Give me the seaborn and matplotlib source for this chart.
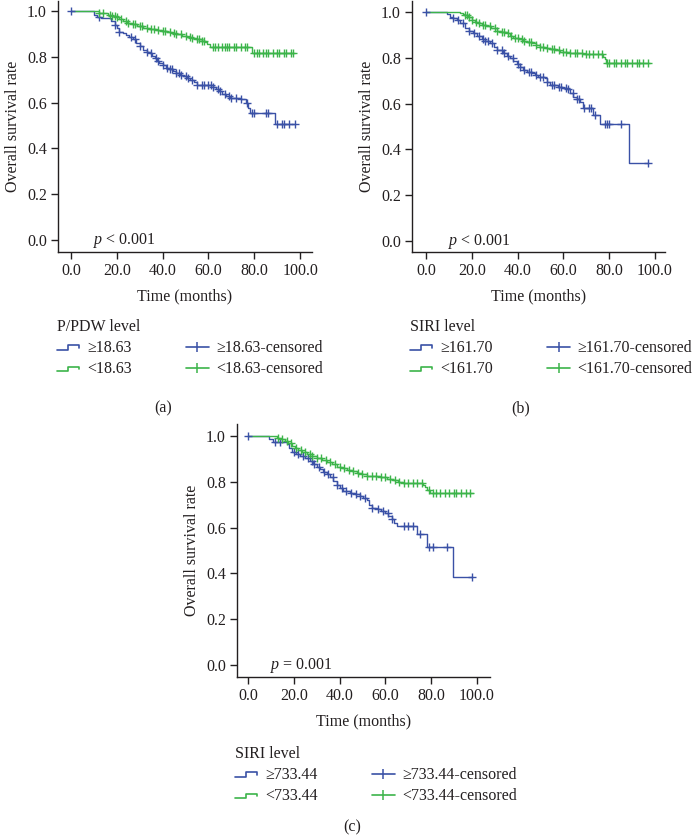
import numpy as np
import pandas as pd
import matplotlib
matplotlib.use("Agg")
import matplotlib.pyplot as plt
import seaborn as sns
from matplotlib.lines import Line2D
from matplotlib.legend_handler import HandlerBase
from matplotlib.ticker import FormatStrFormatter

# ---------------- data ----------------
# Kaplan-Meier steps: (time in months, survival after that time)
A_HIGH = [(0, 1.0), (10, 0.985), (11.5, 0.975), (13, 0.970), (15, 0.968), (17.5, 0.955), (19, 0.939),
          (20, 0.925), (21, 0.910), (22.5, 0.903), (24, 0.895), (25.5, 0.886), (27, 0.876), (28.5, 0.862),
          (30, 0.848), (31.5, 0.832), (33, 0.822), (34.5, 0.815), (35.5, 0.805), (36.5, 0.795), (37.5, 0.784),
          (38.5, 0.772), (40, 0.763), (41.5, 0.752), (43, 0.745), (44.5, 0.738), (46, 0.731), (47.5, 0.723),
          (49, 0.716), (50.5, 0.708), (52, 0.700), (53.5, 0.690), (55, 0.677), (62, 0.670), (63.5, 0.660),
          (64.5, 0.650), (66, 0.640), (67.5, 0.630), (69.5, 0.619), (74, 0.614), (76.5, 0.597), (77.3, 0.575),
          (78.2, 0.553), (89.2, 0.509), (97.8, 0.509)]
A_LOW = [(0, 1.0), (12, 0.993), (14, 0.990), (16, 0.985), (18, 0.980), (19.5, 0.975), (21, 0.966),
         (22.5, 0.958), (24.5, 0.950), (27, 0.943), (29, 0.935), (31.5, 0.928), (34, 0.922), (37, 0.917),
         (39.5, 0.912), (42, 0.908), (44, 0.903), (46, 0.898), (48.5, 0.893), (50.5, 0.888), (53, 0.882),
         (55, 0.876), (57, 0.870), (58.5, 0.865), (59.5, 0.855), (60.7, 0.844), (78.9, 0.818), (97.1, 0.818)]
A_HIGH_CENS = [0, 12, 19, 21, 26, 28, 30, 33, 35, 37, 38, 40, 42, 43, 44, 46, 47, 48, 50, 51, 53, 55, 57,
               58, 60, 61, 62, 64, 65, 67, 69, 70, 72, 74, 77, 79, 80, 85, 86, 90, 92, 93, 95, 97.8]
A_LOW_CENS = [12, 14, 17, 18, 19, 20, 22, 24, 25, 27, 28, 30, 31, 33, 35, 36, 38, 40, 41, 43, 45, 46, 48,
              50, 52, 53, 55, 56, 57, 58, 62, 63, 64, 66, 67, 68, 69, 71, 72, 74, 76, 77, 80, 81, 82, 84,
              85, 86, 88, 90, 91, 93, 94, 96, 97]

B_HIGH = [(0, 1.0), (9, 0.990), (10.5, 0.979), (12, 0.972), (13.5, 0.965), (15, 0.950), (17, 0.928),
          (19, 0.917), (20.7, 0.907), (22.5, 0.894), (24.3, 0.881), (26, 0.872), (28, 0.863), (29.5, 0.848),
          (31, 0.834), (33.8, 0.822), (35.2, 0.810), (36.7, 0.798), (38.2, 0.786), (39.6, 0.773), (41, 0.760),
          (42.5, 0.747), (44.3, 0.740), (46.1, 0.732), (47.6, 0.723), (49.1, 0.715), (52, 0.710), (53, 0.695),
          (54.1, 0.681), (57.8, 0.674), (59.5, 0.668), (61.4, 0.662), (62.8, 0.646), (64.3, 0.630),
          (65.8, 0.619), (67.2, 0.608), (68.7, 0.579), (73.1, 0.550), (76.0, 0.510), (88.8, 0.339),
          (97.1, 0.339)]
B_LOW = [(0, 1.0), (14.8, 0.995), (16, 0.990), (17, 0.986), (18.5, 0.976), (20, 0.967), (21.5, 0.958),
         (22.8, 0.950), (24.5, 0.944), (26.4, 0.938), (28.5, 0.928), (30.9, 0.918), (33, 0.912), (35.2, 0.907),
         (36.7, 0.896), (38.1, 0.885), (40.3, 0.880), (42.5, 0.875), (44.3, 0.869), (46.1, 0.863), (48, 0.856),
         (49.8, 0.849), (52, 0.843), (54.1, 0.837), (56.3, 0.832), (58.5, 0.827), (62.9, 0.820), (68.7, 0.817),
         (77.5, 0.805), (78.2, 0.793), (78.6, 0.776), (97.8, 0.776)]
B_HIGH_CENS = [0, 12, 14, 16, 19, 21, 23, 25, 26, 27, 29, 31, 33, 34, 36, 38, 40, 41, 43, 45, 46, 48, 50,
               51, 53, 55, 56, 58, 59, 61, 62, 64, 66, 67, 69, 71, 72, 74, 78, 79, 80, 85, 97]
B_LOW_CENS = [17, 18, 19, 20, 22, 23, 25, 26, 28, 30, 31, 33, 34, 36, 37, 39, 40, 42, 43, 45, 46, 48, 50,
              51, 53, 55, 56, 58, 60, 61, 63, 65, 66, 68, 70, 71, 73, 75, 77, 79, 80, 82, 83, 85, 87, 88,
              90, 92, 93, 95, 97]

C_HIGH = [(0, 1.0), (9, 0.985), (11.1, 0.975), (16.9, 0.965), (18, 0.948), (19.1, 0.932), (21, 0.922),
          (22.7, 0.913), (25, 0.902), (27.1, 0.892), (28.5, 0.879), (30, 0.866), (31.5, 0.855), (32.9, 0.844),
          (34.3, 0.832), (35.8, 0.820), (37.3, 0.803), (38.7, 0.786), (40.2, 0.773), (41.6, 0.761),
          (44.5, 0.752), (46.7, 0.745), (48.9, 0.738), (50.3, 0.730), (51.8, 0.721), (53, 0.700), (54, 0.684),
          (56.9, 0.680), (58.3, 0.671), (59.8, 0.662), (61.2, 0.649), (62.7, 0.636), (63.8, 0.621),
          (64.9, 0.607), (73.6, 0.571), (78.0, 0.514), (89.7, 0.386), (97.7, 0.386)]
C_LOW = [(0, 1.0), (8.9, 0.998), (12.5, 0.993), (14.5, 0.985), (16.2, 0.978), (17.6, 0.967), (19.1, 0.956),
         (20.5, 0.946), (22, 0.937), (23.8, 0.929), (25.6, 0.921), (27.8, 0.913), (30, 0.905), (32.2, 0.897),
         (34.4, 0.888), (36.5, 0.877), (38.7, 0.866), (40.9, 0.860), (43.1, 0.853), (45.3, 0.847),
         (47.5, 0.840), (49.6, 0.832), (51.8, 0.825), (57.6, 0.820), (60.5, 0.814), (63.5, 0.808),
         (65.6, 0.800), (67.8, 0.793), (76.6, 0.786), (77.3, 0.775), (78.0, 0.764), (79.5, 0.752),
         (98.4, 0.752)]
C_HIGH_CENS = [0, 12, 14, 20, 22, 24, 26, 28, 29, 31, 33, 35, 37, 39, 41, 43, 45, 47, 49, 51, 54, 57, 59,
               61, 63, 68, 70, 72, 75, 79, 81, 87, 97.7]
C_LOW_CENS = [13, 15, 17, 19, 21, 23, 25, 27, 28, 30, 32, 34, 36, 38, 40, 42, 44, 46, 48, 50, 52, 54, 56,
              58, 60, 62, 64, 66, 68, 70, 72, 74, 76, 79, 81, 82, 84, 86, 88, 90, 91, 93, 95, 97]

PANELS = [
    dict(tag="(a)", title="P/PDW level", cut="18.63", p="$p$ < 0.001",
         high=A_HIGH, low=A_LOW, high_c=A_HIGH_CENS, low_c=A_LOW_CENS),
    dict(tag="(b)", title="SIRI level", cut="161.70", p="$p$ < 0.001",
         high=B_HIGH, low=B_LOW, high_c=B_HIGH_CENS, low_c=B_LOW_CENS),
    dict(tag="(c)", title="SIRI level", cut="733.44", p="$p$ = 0.001",
         high=C_HIGH, low=C_LOW, high_c=C_HIGH_CENS, low_c=C_LOW_CENS),
]
X_TICKS = [0, 20, 40, 60, 80, 100]
Y_TICKS = [0.0, 0.2, 0.4, 0.6, 0.8, 1.0]

# ---------------- style ----------------
sns.set_theme(style="ticks")
FONT = ["Liberation Serif", "DejaVu Serif"]
plt.rcParams["font.family"] = FONT
plt.rcParams["mathtext.fontset"] = "custom"
plt.rcParams["mathtext.rm"] = "Liberation Serif"
plt.rcParams["mathtext.it"] = "Liberation Serif:italic"
TXT = "#231f20"
BLUE = "#3a51a6"
GREEN = "#3cb44a"
FS = 11.5

W, H = 697, 835
fig = plt.figure(figsize=(W / 100, H / 100), dpi=100)


def px_axes(l, r, b, t):
    return fig.add_axes([l / W, 1 - b / H, (r - l) / W, (b - t) / H])


class StepHandler(HandlerBase):
    def create_artists(self, legend, orig_handle, xdescent, ydescent, width, height, fontsize, trans):
        x0, y0 = -xdescent, -ydescent
        xs = [x0, x0 + 0.5 * width, x0 + 0.5 * width, x0 + width, x0 + width]
        ys = [y0 + 0.2 * height, y0 + 0.2 * height, y0 + 0.6 * height, y0 + 0.6 * height, y0 + 0.35 * height]
        return [Line2D(xs, ys, color=orig_handle.get_color(), lw=1.2, transform=trans)]


class StepProxy:
    def __init__(self, color):
        self._c = color

    def get_color(self):
        return self._c


def surv_at(steps, t):
    val = steps[0][1]
    for tt, s in steps:
        if tt <= t:
            val = s
    return val


# axis boxes in pixels: (left, right, bottom, top), x data range, y data range
LAYOUT = [
    dict(box=(58, 312, 252, 1), xlim=(-5.7, 105.2), ylim=(-0.052, 1.044),
         leg=(57, 319), tag=(163, 408)),
    dict(box=(412, 665, 252, 1), xlim=(-6.1, 104.4), ylim=(-0.048, 1.048),
         leg=(410, 319), tag=(521, 408)),
    dict(box=(237, 490, 677, 424), xlim=(-4.8, 105.7), ylim=(-0.052, 1.052),
         leg=(235, 746), tag=(352, 827)),
]

for P, L in zip(PANELS, LAYOUT):
    ax = px_axes(*L["box"])
    for steps, cens, col in [(P["high"], P["high_c"], BLUE), (P["low"], P["low_c"], GREEN)]:
        df = pd.DataFrame(steps, columns=["t", "s"])
        sns.lineplot(data=df, x="t", y="s", ax=ax, color=col, lw=1.0, drawstyle="steps-post",
                     estimator=None, sort=False, legend=False)
        cdf = pd.DataFrame({"t": cens, "s": [surv_at(steps, c) for c in cens]})
        sns.scatterplot(data=cdf, x="t", y="s", ax=ax, color=col, marker="+", s=28,
                        linewidth=1.0, legend=False, zorder=3)
    ax.set_xlim(*L["xlim"])
    ax.set_ylim(*L["ylim"])
    ax.set_xticks(X_TICKS)
    ax.set_yticks(Y_TICKS)
    ax.xaxis.set_major_formatter(FormatStrFormatter("%.1f"))
    ax.yaxis.set_major_formatter(FormatStrFormatter("%.1f"))
    sns.despine(ax=ax)
    for sp in ("left", "bottom"):
        ax.spines[sp].set_linewidth(1.0)
        ax.spines[sp].set_color(TXT)
    ax.tick_params(axis="both", length=5, width=1.0, color=TXT, labelsize=FS, labelcolor=TXT, pad=3)
    ax.set_xlabel("Time (months)", fontsize=FS, color=TXT, labelpad=7)
    ax.set_ylabel("Overall survival rate", fontsize=FS, color=TXT, labelpad=4)
    ax.text(9.6, 0.0, P["p"], fontsize=FS, color=TXT, ha="left", va="center")

    cut = P["cut"]
    handles = [StepProxy(BLUE), StepProxy(GREEN),
               Line2D([], [], color=BLUE, lw=1.2, marker="|", markersize=7, markeredgewidth=1.1),
               Line2D([], [], color=GREEN, lw=1.2, marker="|", markersize=7, markeredgewidth=1.1)]
    labels = ["\u2265" + cut, "<" + cut, "\u2265" + cut + "-censored", "<" + cut + "-censored"]
    lx, ly = L["leg"]
    leg = ax.legend(handles, labels, handler_map={StepProxy: StepHandler()}, title=P["title"],
                    loc="upper left", bbox_to_anchor=(lx / W, 1 - ly / H), bbox_transform=fig.transFigure,
                    ncol=2, frameon=False, fontsize=FS, title_fontsize=FS, borderpad=0,
                    borderaxespad=0, handlelength=1.4, handletextpad=0.5, columnspacing=3.4,
                    labelspacing=0.32, numpoints=1, alignment="left")
    for t in leg.get_texts():
        t.set_color(TXT)
    leg.get_title().set_color(TXT)
    tx, ty = L["tag"]
    fig.text(tx / W, 1 - ty / H, P["tag"], fontsize=FS, color=TXT, ha="center", va="center")

fig.savefig("out.png", dpi=100)
